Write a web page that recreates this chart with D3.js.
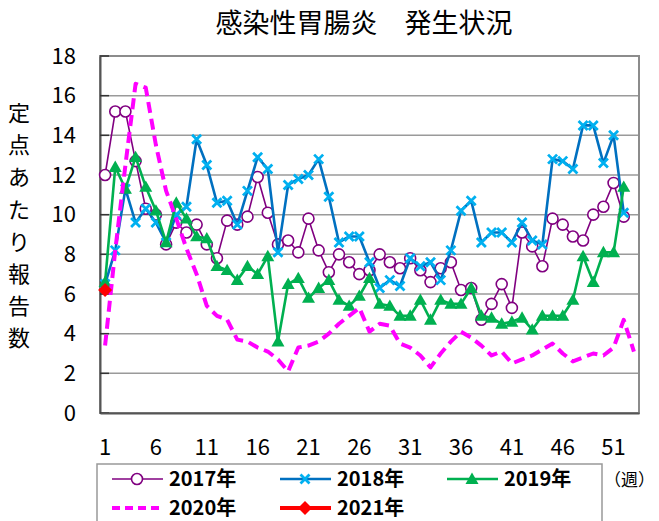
<!DOCTYPE html>
<html><head><meta charset="utf-8">
<script src="https://cdn.jsdelivr.net/npm/d3@7/dist/d3.min.js"></script>
<style>
html,body{margin:0;padding:0;background:#fff;}
svg text{font-family:"Noto Sans CJK JP","Noto Sans",sans-serif;fill:#000;}
</style></head>
<body><svg id="c" width="659" height="521"></svg>
<script>
const title = "感染性胃腸炎　発生状況";
const yTitle = "定点あたり報告数";
const weeks = d3.range(1, 54);
const xTickLabels = [1, 6, 11, 16, 21, 26, 31, 36, 41, 46, 51];
const yTickValues = [0, 2, 4, 6, 8, 10, 12, 14, 16, 18];
const seriesNames = ["2017年", "2018年", "2019年", "2020年", "2021年"];
const v2017 = [12.0, 15.2, 15.2, 12.7, 10.3, 10.0, 8.5, 9.6, 9.1, 9.5, 8.5, 7.8, 9.7, 9.5, 9.9, 11.9, 10.1, 8.5, 8.7, 8.1, 9.8, 8.2, 7.1, 8.0, 7.6, 7.0, 7.2, 8.0, 7.6, 7.3, 7.8, 7.2, 6.6, 7.3, 7.6, 6.2, 6.3, 4.7, 5.5, 6.5, 5.3, 9.1, 8.4, 7.4, 9.8, 9.5, 8.9, 8.7, 10.0, 10.4, 11.6, 9.9];
const v2018 = [6.5, 8.2, 11.3, 9.6, 10.3, 9.6, 8.6, 10.0, 10.4, 13.8, 12.5, 10.6, 10.7, 9.5, 11.2, 12.9, 12.3, 8.1, 11.5, 11.8, 12.0, 12.8, 10.9, 8.6, 8.9, 8.9, 7.6, 6.3, 6.7, 6.4, 7.8, 7.4, 7.6, 6.7, 8.2, 10.2, 10.7, 8.6, 9.1, 9.1, 8.6, 9.6, 8.7, 8.5, 12.8, 12.7, 12.3, 14.5, 14.5, 12.6, 14.0, 10.1];
const v2019 = [6.6, 12.4, 11.3, 12.9, 11.4, 10.2, 8.6, 10.6, 9.8, 8.9, 8.8, 7.4, 7.2, 6.7, 7.4, 7.0, 7.9, 3.6, 6.5, 6.8, 5.8, 6.3, 6.7, 5.7, 5.4, 5.9, 6.8, 5.5, 5.4, 4.9, 4.9, 5.7, 4.7, 5.7, 5.5, 5.5, 6.3, 4.9, 4.8, 4.5, 4.6, 4.8, 4.2, 4.9, 4.9, 4.9, 5.7, 7.9, 6.6, 8.1, 8.1, 11.4];
const v2020 = [3.4, 8.2, 12.5, 16.6, 16.4, 13.5, 11.2, 9.8, 8.3, 7.0, 5.4, 4.9, 4.7, 3.7, 3.6, 3.3, 3.1, 2.7, 2.1, 3.3, 3.4, 3.6, 4.0, 4.5, 4.9, 5.3, 4.1, 4.5, 4.4, 3.5, 3.3, 2.9, 2.3, 3.0, 3.6, 4.1, 3.8, 3.4, 2.9, 3.1, 2.5, 2.7, 2.9, 3.2, 3.5, 3.0, 2.6, 2.8, 3.0, 2.9, 3.3, 4.7, 3.1];
const v2021 = [6.2];
const unitLabel = "（週）";

const svg = d3.select("#c");
const L = 100, R = 639, T = 56, B = 413;
const x = d3.scaleBand().domain(weeks).range([L, R]);
const cx = w => x(w) + x.bandwidth() / 2;
const y = d3.scaleLinear().domain([0, 18]).range([B, T]);

// gridlines
svg.append("g").selectAll("line").data(yTickValues.filter(v => v > 0 && v < 18)).join("line")
  .attr("x1", L).attr("x2", R).attr("y1", d => y(d)).attr("y2", d => y(d))
  .attr("stroke", "#9a9a9a").attr("stroke-width", 1.5);
// plot border
svg.append("rect").attr("x", L).attr("y", T).attr("width", R - L).attr("height", B - T)
  .attr("fill", "none").attr("stroke", "#8c8c8c").attr("stroke-width", 2);

// y axis
const yAxis = svg.append("g").attr("transform", `translate(${L},0)`)
  .call(d3.axisLeft(y).tickValues(yTickValues).tickSize(0).tickPadding(24).tickFormat(d3.format("d")));
yAxis.select(".domain").attr("stroke", "#555").attr("stroke-width", 2);
yAxis.selectAll("text").attr("font-size", 22).attr("font-family", "'Noto Sans CJK JP',sans-serif");
svg.append("g").selectAll("line").data(yTickValues).join("line")
  .attr("x1", L).attr("x2", L + 9).attr("y1", d => y(d)).attr("y2", d => y(d))
  .attr("stroke", "#333").attr("stroke-width", 1.5);

// x axis
const xAxis = svg.append("g").attr("transform", `translate(0,${B})`)
  .call(d3.axisBottom(x).tickValues(xTickLabels).tickSize(0).tickPadding(26));
xAxis.select(".domain").attr("stroke", "#555").attr("stroke-width", 2);
xAxis.selectAll("text").attr("font-size", 22).attr("font-family", "'Noto Sans CJK JP',sans-serif");

// title
svg.append("text").attr("x", 364).attr("y", 33).attr("text-anchor", "middle")
  .attr("font-size", 27).text(title);
// y title
svg.append("g").selectAll("text").data(Array.from(yTitle)).join("text")
  .attr("x", 19).attr("y", (d, i) => 121 + i * 32.2).attr("text-anchor", "middle")
  .attr("font-size", 22).text(d => d);

const line = d3.line().x((d, i) => cx(i + 1)).y(d => y(d));

// series styles
const styles = [
  {vals: v2017, color: "#800080", width: 1.6, marker: "circle", mcolor: "#800080"},
  {vals: v2018, color: "#0070C0", width: 2.6, marker: "x", mcolor: "#00B0F0"},
  {vals: v2019, color: "#00B050", width: 2.6, marker: "tri", mcolor: "#00B050"},
  {vals: v2020, color: "#FF00FF", width: 4, marker: null, dash: "11,6"},
  {vals: v2021, color: "#FF0000", width: 4, marker: "diamond", mcolor: "#FF0000"}
];

function drawMarker(g, type, px, py, col) {
  if (type === "circle") {
    g.append("circle").attr("cx", px).attr("cy", py).attr("r", 5.5)
      .attr("fill", "#fff").attr("stroke", col).attr("stroke-width", 1.6);
  } else if (type === "x") {
    const s = 4.5;
    g.append("path").attr("d", `M${px-s},${py-s}L${px+s},${py+s}M${px-s},${py+s}L${px+s},${py-s}`)
      .attr("stroke", col).attr("stroke-width", 2.8).attr("fill", "none");
  } else if (type === "tri") {
    const s = 6.5;
    g.append("path").attr("d", `M${px},${py-s}L${px+s},${py+s*0.75}L${px-s},${py+s*0.75}Z`)
      .attr("fill", col);
  } else if (type === "diamond") {
    const s = 7;
    g.append("path").attr("d", `M${px},${py-s}L${px+s},${py}L${px},${py+s}L${px-s},${py}Z`)
      .attr("fill", col);
  }
}

styles.forEach(st => {
  const g = svg.append("g");
  if (st.vals.length > 1) {
    g.append("path").datum(st.vals).attr("d", line).attr("fill", "none")
      .attr("stroke", st.color).attr("stroke-width", st.width)
      .attr("stroke-dasharray", st.dash || null).attr("stroke-linejoin", "round");
  }
  if (st.marker) st.vals.forEach((v, i) => drawMarker(g, st.marker, cx(i + 1), y(v), st.mcolor));
});

// legend
const lg = svg.append("g");
lg.append("rect").attr("x", 97).attr("y", 464).attr("width", 505).attr("height", 70)
  .attr("fill", "#fff").attr("stroke", "#999").attr("stroke-width", 1.5);
const lpos = [[112, 479], [280, 479], [447, 479], [112, 508], [280, 508]];
styles.forEach((st, i) => {
  const [lx, ly] = lpos[i];
  lg.append("line").attr("x1", lx).attr("x2", lx + 51).attr("y1", ly).attr("y2", ly)
    .attr("stroke", st.color).attr("stroke-width", st.width).attr("stroke-dasharray", st.dash ? "8,5" : null);
  if (st.marker) drawMarker(lg, st.marker, lx + 25, ly, st.mcolor);
  lg.append("text").attr("x", lx + 57).attr("y", ly + 7).attr("font-size", 20)
    .attr("font-weight", "bold").text(seriesNames[i]);
});
svg.append("text").attr("x", 655).attr("y", 486).attr("text-anchor", "end")
  .attr("font-size", 17).text(unitLabel);
</script></body></html>
